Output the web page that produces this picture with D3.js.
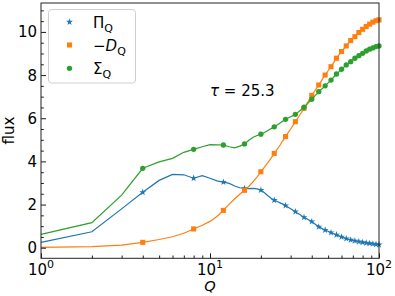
<!DOCTYPE html>
<html><head><meta charset="utf-8">
<script src="https://cdn.jsdelivr.net/npm/d3@7"></script>
<style>
body{margin:0;background:#fff}
svg{display:block}
text{font-family:"DejaVu Sans",sans-serif;fill:#000}
</style>
</head><body>
<svg id="c" width="395" height="296"></svg>
<script>
const Q = [1,2,3,4,5,6,7,8,9,10,11,12,13,14,15,16,17,18,19,20,21,22,23,24,25,26,27,28,29,30,31,32,33,34,35,36,37,38,39,40,41,42,43,44,45,46,47,48,49,50,51,52,53,54,55,56,57,58,59,60,61,62,63,64,65,66,67,68,69,70,71,72,73,74,75,76,77,78,79,80,81,82,83,84,85,86,87,88,89,90,91,92,93,94,95,96,97,98,99,100];
const Pi = [0.25,0.74,1.80,2.57,3.12,3.40,3.38,3.22,3.34,3.22,3.10,3.04,2.98,2.86,2.78,2.75,2.74,2.75,2.73,2.67,2.55,2.41,2.29,2.20,2.14,2.08,2.02,1.95,1.88,1.81,1.74,1.67,1.60,1.54,1.47,1.41,1.36,1.31,1.26,1.21,1.15,1.09,1.03,0.97,0.93,0.89,0.85,0.82,0.79,0.76,0.73,0.70,0.67,0.65,0.62,0.60,0.57,0.55,0.52,0.50,0.48,0.46,0.44,0.42,0.41,0.39,0.38,0.36,0.35,0.34,0.33,0.32,0.31,0.30,0.29,0.28,0.27,0.27,0.26,0.25,0.24,0.24,0.23,0.22,0.22,0.21,0.21,0.20,0.20,0.19,0.19,0.18,0.18,0.17,0.17,0.16,0.16,0.15,0.15,0.14];
const negD = [0.02,0.05,0.12,0.25,0.38,0.51,0.67,0.87,1.04,1.22,1.45,1.73,2.02,2.27,2.48,2.66,2.85,3.06,3.28,3.52,3.73,3.94,4.15,4.37,4.57,4.76,4.96,5.15,5.33,5.50,5.67,5.84,6.00,6.15,6.31,6.46,6.61,6.76,6.91,7.06,7.18,7.30,7.42,7.54,7.66,7.78,7.89,8.00,8.10,8.20,8.30,8.39,8.49,8.59,8.69,8.78,8.86,8.94,9.02,9.09,9.16,9.22,9.29,9.35,9.41,9.48,9.54,9.60,9.65,9.69,9.74,9.78,9.83,9.88,9.92,9.97,10.01,10.05,10.08,10.12,10.15,10.19,10.22,10.25,10.28,10.31,10.33,10.36,10.38,10.41,10.43,10.45,10.47,10.49,10.50,10.52,10.53,10.54,10.55,10.56];
const Sigma = [0.62,1.16,2.44,3.68,3.98,4.14,4.42,4.56,4.68,4.78,4.77,4.76,4.68,4.63,4.71,4.81,4.98,5.12,5.20,5.26,5.34,5.43,5.52,5.60,5.69,5.78,5.87,5.95,6.01,6.07,6.12,6.18,6.26,6.35,6.43,6.51,6.60,6.70,6.79,6.88,6.97,7.06,7.14,7.23,7.30,7.37,7.43,7.50,7.57,7.64,7.70,7.77,7.84,7.91,7.98,8.05,8.10,8.16,8.21,8.27,8.32,8.37,8.42,8.47,8.51,8.55,8.58,8.62,8.66,8.70,8.74,8.78,8.81,8.84,8.87,8.90,8.93,8.96,8.98,9.01,9.04,9.07,9.09,9.12,9.14,9.16,9.18,9.20,9.21,9.23,9.24,9.26,9.28,9.29,9.31,9.32,9.33,9.34,9.35,9.35];
const markQ = [4,8,12,16,20,24,28,32,36,40,44,48,52,56,60,64,68,72,76,80,84,88,92,96,100];
const xTickVals = [1,10,100];
const xTickExps = ["0","1","2"];
const xMinor = [2,3,4,5,6,7,8,9,20,30,40,50,60,70,80,90];
const yTickVals = [0,2,4,6,8,10];
const yMinor = [0.5,1,1.5,2.5,3,3.5,4.5,5,5.5,6.5,7,7.5,8.5,9,9.5,10.5,11];
const annotation = "25.3";

const svg = d3.select("#c");
const L = 41, R = 379, T = 3, B = 258.3;
const x = d3.scaleLog().domain([1,100]).range([L,R]);
const y = d3.scaleLinear().domain([-0.49,11.34]).range([B,T]);

const series = [
  {name:"Pi", vals:Pi, color:"#1f77b4", sym:d3.symbolStar, size:15},
  {name:"D", vals:negD, color:"#ff7f0e", sym:d3.symbolSquare, size:26},
  {name:"S", vals:Sigma, color:"#2ca02c", sym:d3.symbolCircle, size:22}
];

const line = d3.line().x(d=>x(d[0])).y(d=>y(d[1]));
series.forEach(s=>{
  const pts = Q.map((q,i)=>[q,s.vals[i]]);
  svg.append("path").attr("d",line(pts)).attr("fill","none")
    .attr("stroke",s.color).attr("stroke-width",1.2);
  const mk = pts.filter(p=>markQ.includes(p[0]));
  svg.selectAll(null).data(mk).enter().append("path")
    .attr("d",d3.symbol().type(s.sym).size(s.size))
    .attr("transform",d=>`translate(${x(d[0])},${y(d[1])})`)
    .attr("fill",s.color);
});

// axes
const gx = svg.append("g").attr("transform",`translate(0,${B})`)
  .call(d3.axisBottom(x).tickValues(xTickVals).tickSize(-5).tickFormat(""));
const gxm = svg.append("g").attr("transform",`translate(0,${B})`)
  .call(d3.axisBottom(x).tickValues(xMinor).tickSize(-2.8).tickFormat(""));
const gy = svg.append("g").attr("transform",`translate(${L},0)`)
  .call(d3.axisLeft(y).tickValues(yTickVals).tickSize(-5).tickFormat(""));
const gym = svg.append("g").attr("transform",`translate(${L},0)`)
  .call(d3.axisLeft(y).tickValues(yMinor).tickSize(-2.8).tickFormat(""));
[gx,gxm,gy,gym].forEach(g=>{g.select(".domain").remove(); g.selectAll("line").attr("stroke","#000").attr("stroke-width",0.9);});

svg.append("rect").attr("x",L).attr("y",T).attr("width",R-L).attr("height",B-T)
  .attr("fill","none").attr("stroke","#222").attr("stroke-width",1);

// y tick labels
svg.selectAll(null).data(yTickVals).enter().append("text")
  .attr("x",L-4).attr("y",d=>y(d)+5.5).attr("text-anchor","end")
  .attr("font-size",15).text(d=>d);

// x tick labels
xTickVals.forEach((v,i)=>{
  const t = svg.append("text").attr("x",x(v)).attr("y",274.5).attr("text-anchor","middle").attr("font-size",15);
  t.append("tspan").text("10");
  t.append("tspan").attr("dy",-7).attr("font-size",11).text(xTickExps[i]);
});

// axis labels
svg.append("text").attr("x",x(10)).attr("y",291).attr("text-anchor","middle")
  .attr("font-size",14.5).attr("font-style","italic").text("Q");
svg.append("text").attr("transform",`translate(14,${(T+B)/2}) rotate(-90)`)
  .attr("text-anchor","middle").attr("font-size",15).text("flux");

// annotation
const an = svg.append("text").attr("x",210).attr("y",96).attr("font-size",15);
an.append("tspan").attr("font-style","italic").text("τ");
an.append("tspan").text(" = " + annotation);

// legend
svg.append("rect").attr("x",48.5).attr("y",9.5).attr("width",87).attr("height",73.5)
  .attr("rx",3).attr("fill","#fff").attr("fill-opacity",0.8).attr("stroke","#d0d0d0").attr("stroke-width",1);
const ly = [22,45,68.3];
series.forEach((s,i)=>{
  svg.append("path").attr("d",d3.symbol().type(s.sym).size(s.size))
    .attr("transform",`translate(69.5,${ly[i]})`).attr("fill",s.color);
});
function sub(t, txt){ t.append("tspan").attr("dy",4).attr("font-size",11).text(txt); }
let t0 = svg.append("text").attr("x",93).attr("y",ly[0]+5.5).attr("font-size",15);
t0.append("tspan").text("Π"); sub(t0,"Q");
let t1 = svg.append("text").attr("x",93).attr("y",ly[1]+5.5).attr("font-size",15);
t1.append("tspan").text("−"); t1.append("tspan").attr("font-style","italic").text("D"); sub(t1,"Q");
let t2 = svg.append("text").attr("x",93).attr("y",ly[2]+5.5).attr("font-size",15);
t2.append("tspan").text("Σ"); sub(t2,"Q");
</script>
</body></html>
